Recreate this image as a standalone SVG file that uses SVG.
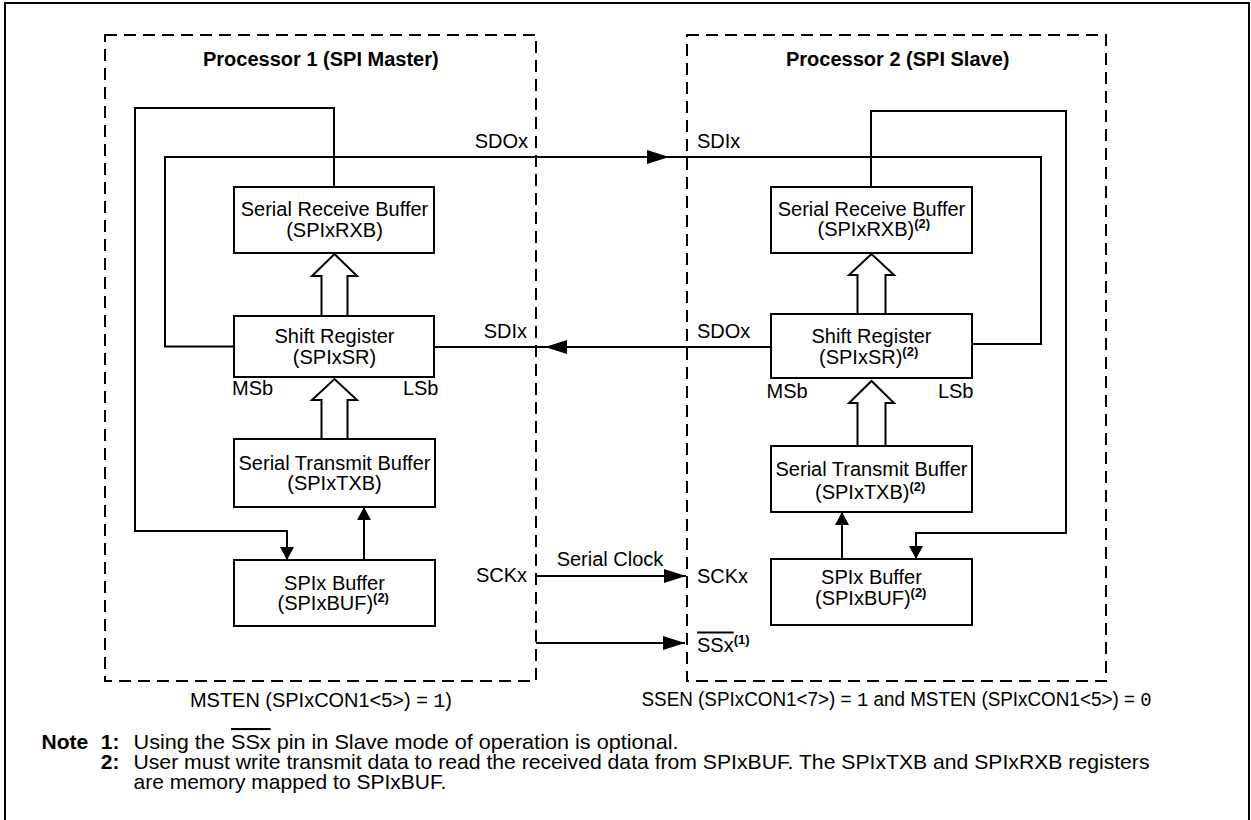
<svg xmlns="http://www.w3.org/2000/svg" width="1251" height="820" viewBox="0 0 1251 820">
<style>
.t{font-family:"Liberation Sans",Arial,sans-serif;font-size:20px;fill:#000}
.b{font-weight:bold}
.sup{font-size:13px;font-weight:bold}
.nt{font-family:"Liberation Sans",Arial,sans-serif;font-size:21px;fill:#000}
.mono{font-family:"Liberation Mono","Courier New",monospace}
.box{fill:#fff;stroke:#000;stroke-width:2}
.ln{fill:none;stroke:#000;stroke-width:2}
.dash{fill:none;stroke:#000;stroke-width:2;stroke-dasharray:12 7}
.hol{fill:#fff;stroke:#000;stroke-width:2;stroke-linejoin:miter}
</style>
<defs>
<marker id="ab" viewBox="0 0 22 14" refX="22" refY="7" markerWidth="22" markerHeight="14" markerUnits="userSpaceOnUse" orient="auto"><path d="M0,0 L22,7 L0,14 Z" fill="#000"/></marker>
<marker id="as" viewBox="0 0 13 14" refX="13" refY="7" markerWidth="13" markerHeight="14" markerUnits="userSpaceOnUse" orient="auto"><path d="M0,0 L13,7 L0,14 Z" fill="#000"/></marker>
</defs>
<rect x="5" y="3" width="1244" height="830" fill="#fff" stroke="#000" stroke-width="2"/>

<g id="proc1">
<rect class="dash" x="105" y="35" width="431" height="646"/>
<text class="t b" x="203" y="66">Processor 1 (SPI Master)</text>
</g>
<g id="proc2">
<rect class="dash" x="687" y="35" width="419" height="646"/>
<text class="t b" x="786" y="66">Processor 2 (SPI Slave)</text>
</g>

<g id="connectors">
<path class="ln" d="M334 187 V108 H135 V531 H287 V560" marker-end="url(#as)"/>
<path class="ln" d="M234 346.5 H165 V157 H669" marker-end="url(#ab)"/>
<path class="ln" d="M669 157 H1041 V344 H972"/>
<path class="ln" d="M771 347 H545" marker-end="url(#ab)"/>
<path class="ln" d="M545 347 H434"/>
<path class="ln" d="M364 560 V507" marker-end="url(#as)"/>
<path class="ln" d="M871 187 V111 H1066 V533 H916 V559" marker-end="url(#as)"/>
<path class="ln" d="M842 559 V512" marker-end="url(#as)"/>
<path class="ln" d="M536 576 H686" marker-end="url(#ab)"/>
<path class="ln" d="M536 643 H685" marker-end="url(#ab)"/>
<polygon class="hol" points="321.5,316 321.5,276 312,276 334.5,254 357,276 347.5,276 347.5,316"/>
<polygon class="hol" points="321.5,439 321.5,400 312,400 334.5,379 357,400 347.5,400 347.5,439"/>
<polygon class="hol" points="857.5,314 857.5,275 849,275 871.5,254 894,275 885.5,275 885.5,314"/>
<polygon class="hol" points="857.5,446 857.5,403 849,403 871.5,381 894,403 885.5,403 885.5,446"/>
</g>

<g id="rxb1">
<rect class="box" x="234" y="187" width="200" height="66"/>
<text class="t" x="334.5" y="216" text-anchor="middle">Serial Receive Buffer</text>
<text class="t" x="334.5" y="237" text-anchor="middle">(SPIxRXB)</text>
</g>
<g id="sr1">
<rect class="box" x="234" y="316" width="200" height="61"/>
<text class="t" x="334.5" y="343" text-anchor="middle">Shift Register</text>
<text class="t" x="334.5" y="364" text-anchor="middle">(SPIxSR)</text>
</g>
<g id="txb1">
<rect class="box" x="234" y="439" width="201" height="68"/>
<text class="t" x="334.5" y="469.5" text-anchor="middle">Serial Transmit Buffer</text>
<text class="t" x="334.5" y="490" text-anchor="middle">(SPIxTXB)</text>
</g>
<g id="buf1">
<rect class="box" x="234" y="560" width="201" height="66"/>
<text class="t" x="334.5" y="589.5" text-anchor="middle">SPIx Buffer</text>
<text class="t" x="277.5" y="610">(SPIxBUF)<tspan class="sup" dy="-8">(2)</tspan></text>
</g>

<g id="rxb2">
<rect class="box" x="771" y="187" width="201" height="66"/>
<text class="t" x="871.5" y="216" text-anchor="middle">Serial Receive Buffer</text>
<text class="t" x="817.5" y="236">(SPIxRXB)<tspan class="sup" dy="-8">(2)</tspan></text>
</g>
<g id="sr2">
<rect class="box" x="771" y="314" width="201" height="64"/>
<text class="t" x="871.5" y="343" text-anchor="middle">Shift Register</text>
<text class="t" x="819" y="363.5">(SPIxSR)<tspan class="sup" dy="-8">(2)</tspan></text>
</g>
<g id="txb2">
<rect class="box" x="771" y="446" width="201" height="66"/>
<text class="t" x="871.5" y="476" text-anchor="middle">Serial Transmit Buffer</text>
<text class="t" x="815" y="499">(SPIxTXB)<tspan class="sup" dy="-8">(2)</tspan></text>
</g>
<g id="buf2">
<rect class="box" x="771" y="559" width="201" height="66"/>
<text class="t" x="871.5" y="583.5" text-anchor="middle">SPIx Buffer</text>
<text class="t" x="815" y="605">(SPIxBUF)<tspan class="sup" dy="-8">(2)</tspan></text>
</g>

<g id="pins">
<text class="t" x="528" y="148" text-anchor="end">SDOx</text>
<text class="t" x="697" y="148">SDIx</text>
<text class="t" x="527" y="337.5" text-anchor="end">SDIx</text>
<text class="t" x="697" y="337.5">SDOx</text>
<text class="t" x="232" y="395">MSb</text>
<text class="t" x="438.5" y="394.5" text-anchor="end">LSb</text>
<text class="t" x="766.5" y="397.5">MSb</text>
<text class="t" x="973.5" y="398" text-anchor="end">LSb</text>
<text class="t" x="610" y="566" text-anchor="middle">Serial Clock</text>
<text class="t" x="527" y="582" text-anchor="end">SCKx</text>
<text class="t" x="697" y="583">SCKx</text>
<text class="t" x="697" y="651.5"><tspan style="text-decoration:overline">SSx</tspan><tspan class="sup" dy="-8">(1)</tspan></text>
</g>

<g id="modes">
<text class="t" x="190" y="707" textLength="262" lengthAdjust="spacingAndGlyphs">MSTEN (SPIxCON1&lt;5&gt;) = <tspan class="mono">1</tspan>)</text>
<text class="t" x="641.5" y="706" textLength="510" lengthAdjust="spacingAndGlyphs">SSEN (SPIxCON1&lt;7&gt;) = <tspan class="mono">1</tspan> and MSTEN (SPIxCON1&lt;5&gt;) = <tspan class="mono">0</tspan></text>
</g>

<g id="notes">
<text class="nt b" x="41.5" y="749">Note</text>
<text class="nt b" x="119.5" y="749" text-anchor="end">1:</text>
<text class="nt" x="133.5" y="749" textLength="545" lengthAdjust="spacingAndGlyphs">Using the <tspan style="text-decoration:overline">SSx</tspan> pin in Slave mode of operation is optional.</text>
<text class="nt b" x="119.5" y="769" text-anchor="end">2:</text>
<text class="nt" x="133.5" y="769" textLength="1016" lengthAdjust="spacingAndGlyphs">User must write transmit data to read the received data from SPIxBUF. The SPIxTXB and SPIxRXB registers</text>
<text class="nt" x="133.5" y="789">are memory mapped to SPIxBUF.</text>
</g>
</svg>
